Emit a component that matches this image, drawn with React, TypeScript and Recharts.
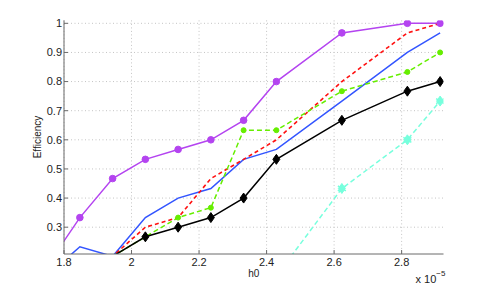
import React from 'react';
import { LineChart, Line, XAxis, YAxis, CartesianGrid } from 'recharts';

const xValues = [1.75, 1.847, 1.944, 2.041, 2.138, 2.235, 2.332, 2.429, 2.623, 2.817, 2.914];
const purpleSeries = [0.167, 0.333, 0.467, 0.533, 0.567, 0.6, 0.667, 0.8, 0.967, 1, 1];
const blueSeries = [0.133, 0.233, 0.2, 0.333, 0.4, 0.433, 0.533, 0.567, 0.733, 0.9, 0.967];
const redSeries = [0.1, 0.133, 0.2, 0.3, 0.333, 0.467, 0.533, 0.6, 0.8, 0.967, 1];
const greenSeries = [0.1, 0.133, 0.2, 0.267, 0.333, 0.367, 0.633, 0.633, 0.767, 0.833, 0.9];
const blackSeries = [0.1, 0.133, 0.2, 0.267, 0.3, 0.333, 0.4, 0.533, 0.667, 0.767, 0.8];
const cyanSeries = [null, null, null, null, null, null, null, 0.133, 0.433, 0.6, 0.733];

const xTicks = [1.8, 2, 2.2, 2.4, 2.6, 2.8];
const yTicks = [0.3, 0.4, 0.5, 0.6, 0.7, 0.8, 0.9, 1];
const X_DOMAIN: [number, number] = [1.8, 2.924];
const Y_DOMAIN: [number, number] = [0.208, 1.01];

const data = xValues.map((x, i) => ({
  x,
  purple: purpleSeries[i],
  blue: blueSeries[i],
  red: redSeries[i],
  green: greenSeries[i],
  black: blackSeries[i],
  cyan: cyanSeries[i],
}));

const inDomain = (p: any) =>
  p.payload && p.value != null &&
  p.payload.x >= X_DOMAIN[0] && p.payload.x <= X_DOMAIN[1] &&
  p.value >= Y_DOMAIN[0] && p.value <= Y_DOMAIN[1];

const circleDot = (color: string, r: number) => (p: any) => {
  if (!inDomain(p)) return <g key={p.key} />;
  return <circle key={p.key} cx={p.cx} cy={p.cy} r={r} fill={color} stroke={color} strokeWidth={1} />;
};

const diamondDot = (color: string, w: number, h: number) => (p: any) => {
  if (!inDomain(p)) return <g key={p.key} />;
  const { cx, cy } = p;
  return (
    <path
      key={p.key}
      d={`M${cx},${cy - h} L${cx + w},${cy} L${cx},${cy + h} L${cx - w},${cy} Z`}
      fill={color}
      stroke={color}
      strokeWidth={1}
    />
  );
};

const starDot = (color: string) => (p: any) => {
  if (!inDomain(p)) return <g key={p.key} />;
  const { cx, cy } = p;
  return (
    <g key={p.key}>
      <path d={`M${cx},${cy - 5} L${cx + 3.5},${cy} L${cx},${cy + 5} L${cx - 3.5},${cy} Z`} fill={color} stroke={color} strokeWidth={1} />
      <path d={`M${cx - 4},${cy - 2.5} L${cx + 4},${cy + 2.5} M${cx - 4},${cy + 2.5} L${cx + 4},${cy - 2.5}`} stroke={color} strokeWidth={1.5} />
    </g>
  );
};

const fmt = (v: number) => String(Number(v.toFixed(1)));

const FONT = '"Liberation Sans", Arial, Helvetica, sans-serif';

const XLabel = (props: any) => {
  const vb = props.viewBox || {};
  const cx = vb.x + vb.width / 2;
  const right = vb.x + vb.width;
  return (
    <g>
      <text x={cx} y={vb.y + 23} textAnchor="middle" fontSize={10} fontFamily={FONT} fill="#222">h0</text>
      <text x={right - 28} y={vb.y + 29} fontSize={11} fontFamily={FONT} fill="#222">
        x 10
        <tspan dy={-7} fontSize={8}>−5</tspan>
      </text>
    </g>
  );
};

const YLabel = (props: any) => {
  const vb = props.viewBox || {};
  const cy = 137;
  const x = 41;
  return (
    <text x={x} y={cy} transform={`rotate(-90, ${x}, ${cy})`} textAnchor="middle" fontSize={10} fontFamily={FONT} fill="#222">
      Efficiency
    </text>
  );
};

export default function App() {
  return (
    <div style={{ position: 'absolute', left: 0, top: 0, width: 491, height: 286, background: '#fff' }}>
      <LineChart
        width={491}
        height={286}
        data={data}
        margin={{ top: 20.4, right: 47.5, left: 24, bottom: 12 }}
      >
        <CartesianGrid stroke="#c4c4c4" strokeDasharray="1 2.5" horizontalValues={yTicks} verticalValues={xTicks} />
        <XAxis
          dataKey="x"
          type="number"
          domain={X_DOMAIN}
          allowDataOverflow
          ticks={xTicks}
          tickFormatter={fmt}
          height={20}
          tickSize={-4}
          tickMargin={8}
          stroke="#6a6a6a"
          tick={{ fontSize: 11, fontFamily: FONT, fill: '#222' }}
          label={<XLabel />}
        />
        <YAxis
          type="number"
          domain={Y_DOMAIN}
          allowDataOverflow
          ticks={yTicks}
          tickFormatter={fmt}
          width={40}
          tickSize={-4}
          tickMargin={6}
          stroke="#6a6a6a"
          tick={{ fontSize: 11, fontFamily: FONT, fill: '#222' }}
          label={<YLabel />}
        />
        <Line dataKey="purple" stroke="#b444f0" strokeWidth={1.5} dot={circleDot('#b444f0', 3.3)} isAnimationActive={false} />
        <Line dataKey="blue" stroke="#3355ff" strokeWidth={1.5} dot={false} isAnimationActive={false} />
        <Line dataKey="red" stroke="#ff1010" strokeWidth={1.6} strokeDasharray="4 3" dot={false} isAnimationActive={false} />
        <Line dataKey="green" stroke="#66ee00" strokeWidth={1.5} strokeDasharray="5 3" dot={circleDot('#66ee00', 2.5)} isAnimationActive={false} />
        <Line dataKey="black" stroke="#000000" strokeWidth={1.5} dot={diamondDot('#000000', 3.5, 5)} isAnimationActive={false} />
        <Line dataKey="cyan" stroke="#77ffdd" strokeWidth={1.5} strokeDasharray="5 3" dot={starDot('#77ffdd')} isAnimationActive={false} />
      </LineChart>
    </div>
  );
}
